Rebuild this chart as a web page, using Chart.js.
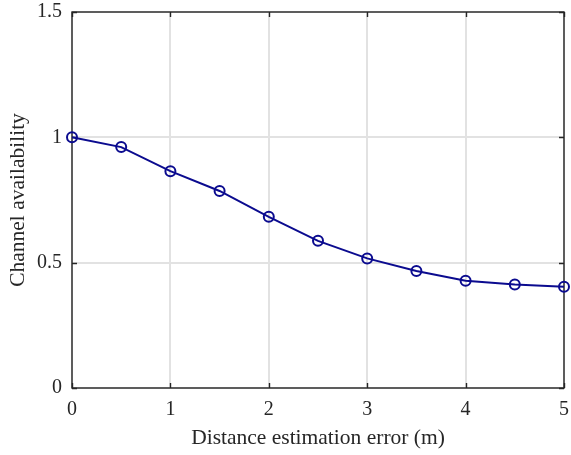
<!DOCTYPE html>
<html>
<head>
<meta charset="utf-8">
<script src="https://cdn.jsdelivr.net/npm/chart.js@4/dist/chart.umd.min.js"></script>
<style>
html,body{margin:0;padding:0;background:#fff;}
</style>
</head>
<body>
<canvas id="chartAvail" width="571" height="455"></canvas>
<script>

// distance estimation error (m)
const errorValues=[0,0.5,1,1.5,2,2.5,3,3.5,4,4.5,5];

// channel availability
const availability=[1.0,0.961,0.865,0.786,0.683,0.587,0.517,0.467,0.428,0.413,0.404];

const xTicks=[0,1,2,3,4,5];
const yTicks=[0,0.5,1,1.5];

const axisColor="#262626";
const gridColor="#e2e2e2";
const lineColor="#0b0b8f";

/* box + inward ticks, matlab style */

const boxPlugin={
id:"boxPlugin",
beforeDatasetsDraw(chart){
let ctx=chart.ctx;
let a=chart.chartArea;
let xs=chart.scales.x;
let ys=chart.scales.y;
let tl=5;
ctx.save();
ctx.strokeStyle=axisColor;
ctx.lineWidth=1.4;
ctx.beginPath();
xTicks.forEach(v=>{
let px=Math.round(xs.getPixelForValue(v))+0.5;
ctx.moveTo(px,a.bottom);ctx.lineTo(px,a.bottom-tl);
ctx.moveTo(px,a.top);ctx.lineTo(px,a.top+tl);
});
yTicks.forEach(v=>{
let py=Math.round(ys.getPixelForValue(v))+0.5;
ctx.moveTo(a.left,py);ctx.lineTo(a.left+tl,py);
ctx.moveTo(a.right,py);ctx.lineTo(a.right-tl,py);
});
ctx.stroke();
ctx.strokeRect(a.left,a.top,a.right-a.left,a.bottom-a.top);
ctx.restore();
}
};

new Chart(document.getElementById("chartAvail"),{

type:"line",

data:{
datasets:[{
label:"Channel availability",
data:errorValues.map((x,i)=>({x:x,y:availability[i]})),
borderColor:lineColor,
borderWidth:2,
pointStyle:"circle",
pointRadius:5,
pointBorderWidth:2,
pointBorderColor:lineColor,
pointBackgroundColor:"rgba(0,0,0,0)",
tension:0,
clip:false
}]
},

options:{
responsive:false,
animation:false,
devicePixelRatio:1,
layout:{padding:{top:12,right:2,left:0,bottom:0}},

plugins:{
legend:{display:false},
tooltip:{enabled:false}
},

scales:{
x:{
type:"linear",
min:0,
max:5,
afterBuildTicks:s=>{s.ticks=xTicks.map(v=>({value:v}));},
afterFit:s=>{s.height=67;s.paddingLeft=0;s.paddingRight=0;},
grid:{color:gridColor,lineWidth:2,drawTicks:false},
border:{display:false},
ticks:{
color:axisColor,
padding:10,
maxRotation:0,
font:{family:"'Liberation Serif', 'Times New Roman', serif",size:20},
callback:v=>String(v)
},
title:{
display:true,
text:"Distance estimation error (m)",
color:axisColor,
padding:{top:0,bottom:4},
font:{family:"'Liberation Serif', 'Times New Roman', serif",size:21.5}
}
},

y:{
type:"linear",
min:0,
max:1.5,
afterBuildTicks:s=>{s.ticks=yTicks.map(v=>({value:v}));},
afterFit:s=>{s.width=72;s.paddingTop=0;s.paddingBottom=0;},
grid:{color:gridColor,lineWidth:2,drawTicks:false},
border:{display:false},
ticks:{
color:axisColor,
padding:10,
font:{family:"'Liberation Serif', 'Times New Roman', serif",size:20},
callback:v=>String(v)
},
title:{
display:true,
text:"Channel availability",
color:axisColor,
padding:{top:5,bottom:0},
font:{family:"'Liberation Serif', 'Times New Roman', serif",size:21.5}
}
}
}

},

plugins:[boxPlugin]

});

</script>
</body>
</html>
